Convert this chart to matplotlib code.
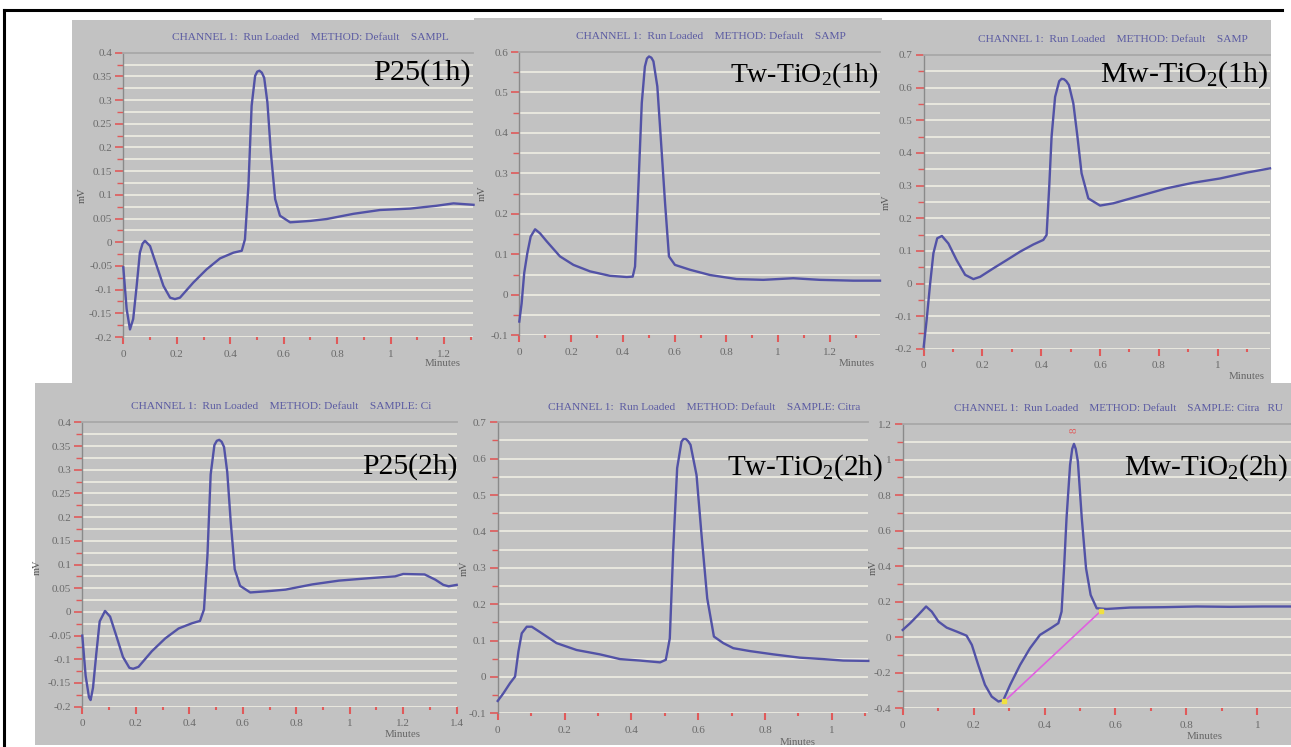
import matplotlib
matplotlib.use("Agg")
import matplotlib.pyplot as plt
from matplotlib.lines import Line2D
import numpy as np

plt.rcParams['font.family'] = ['Liberation Serif', 'DejaVu Serif']
plt.rcParams['mathtext.fontset'] = 'custom'
plt.rcParams['mathtext.rm'] = 'Liberation Serif'
plt.rcParams['mathtext.it'] = 'Liberation Serif:italic'

# ---------------- data ----------------
p25_1h_t = [0, 0.0125, 0.025, 0.037, 0.05, 0.062, 0.072, 0.081, 0.1, 0.125, 0.15, 0.175, 0.193,
            0.212, 0.262, 0.312, 0.362, 0.412, 0.443, 0.455, 0.468, 0.48, 0.493, 0.501, 0.509,
            0.518, 0.527, 0.539, 0.552, 0.568, 0.586, 0.624, 0.699, 0.761, 0.861, 0.96, 1.073,
            1.172, 1.235, 1.31]
p25_1h_mv = [-0.053, -0.141, -0.184, -0.162, -0.092, -0.022, -0.003, 0.003, -0.008, -0.05, -0.092,
             -0.117, -0.12, -0.117, -0.085, -0.057, -0.034, -0.022, -0.018, 0.006, 0.119, 0.288,
             0.351, 0.36, 0.362, 0.358, 0.347, 0.295, 0.189, 0.091, 0.056, 0.042, 0.045, 0.049,
             0.06, 0.068, 0.071, 0.077, 0.082, 0.079]

tw_1h_t = [0, 0.009, 0.019, 0.031, 0.044, 0.061, 0.08, 0.106, 0.157, 0.209, 0.273, 0.35, 0.415,
           0.438, 0.447, 0.46, 0.473, 0.485, 0.493, 0.501, 0.51, 0.518, 0.533, 0.546, 0.563,
           0.578, 0.601, 0.659, 0.736, 0.839, 0.942, 1.058, 1.161, 1.29, 1.393]
tw_1h_mv = [-0.066, -0.021, 0.054, 0.103, 0.144, 0.162, 0.152, 0.132, 0.095, 0.074, 0.058, 0.047,
            0.044, 0.045, 0.07, 0.268, 0.474, 0.564, 0.584, 0.589, 0.586, 0.577, 0.515, 0.391,
            0.226, 0.095, 0.074, 0.062, 0.049, 0.039, 0.037, 0.041, 0.037, 0.035, 0.035]

mw_1h_t = [0, 0.01, 0.022, 0.033, 0.046, 0.062, 0.084, 0.112, 0.141, 0.169, 0.192, 0.237, 0.282,
           0.328, 0.373, 0.407, 0.418, 0.427, 0.435, 0.447, 0.461, 0.469, 0.477, 0.485, 0.494,
           0.509, 0.523, 0.537, 0.56, 0.6, 0.645, 0.736, 0.827, 0.917, 1.008, 1.099, 1.178]
mw_1h_mv = [-0.193, -0.111, 0.001, 0.093, 0.139, 0.146, 0.123, 0.072, 0.027, 0.014, 0.021, 0.047,
            0.072, 0.098, 0.12, 0.134, 0.149, 0.297, 0.45, 0.572, 0.62, 0.627, 0.626, 0.62, 0.608,
            0.552, 0.45, 0.338, 0.261, 0.239, 0.246, 0.269, 0.292, 0.309, 0.322, 0.34, 0.353]

p25_2h_t = [0, 0.0125, 0.025, 0.031, 0.04, 0.052, 0.065, 0.085, 0.104, 0.128, 0.152, 0.176, 0.19,
            0.21, 0.26, 0.31, 0.36, 0.41, 0.44, 0.455, 0.468, 0.48, 0.494, 0.503, 0.512, 0.521,
            0.53, 0.542, 0.555, 0.57, 0.59, 0.628, 0.7, 0.76, 0.86, 0.96, 1.07, 1.17, 1.2, 1.28,
            1.32, 1.35, 1.37, 1.4]
p25_2h_mv = [-0.05, -0.135, -0.18, -0.186, -0.16, -0.09, -0.02, 0.002, -0.01, -0.052, -0.095,
             -0.118, -0.12, -0.116, -0.083, -0.056, -0.035, -0.024, -0.019, 0.005, 0.12, 0.29,
             0.352, 0.361, 0.363, 0.359, 0.348, 0.295, 0.19, 0.09, 0.055, 0.041, 0.044, 0.047,
             0.058, 0.066, 0.071, 0.075, 0.08, 0.079, 0.068, 0.057, 0.054, 0.057]

tw_2h_t = [0, 0.017, 0.037, 0.052, 0.062, 0.072, 0.087, 0.102, 0.127, 0.176, 0.236, 0.306, 0.366,
           0.426, 0.486, 0.503, 0.515, 0.525, 0.537, 0.55, 0.556, 0.563, 0.57, 0.577, 0.595, 0.61,
           0.627, 0.647, 0.675, 0.705, 0.755, 0.825, 0.904, 0.974, 1.034, 1.109]
tw_2h_mv = [-0.066, -0.045, -0.017, 0.001, 0.07, 0.12, 0.138, 0.138, 0.123, 0.093, 0.074, 0.062,
            0.049, 0.045, 0.04, 0.047, 0.106, 0.345, 0.574, 0.647, 0.654, 0.654, 0.648, 0.638,
            0.555, 0.39, 0.216, 0.111, 0.093, 0.079, 0.071, 0.062, 0.053, 0.049, 0.045, 0.044]

mw_2h_t = [0, 0.021, 0.044, 0.066, 0.082, 0.101, 0.124, 0.152, 0.18, 0.195, 0.213, 0.232, 0.251,
           0.27, 0.284, 0.303, 0.331, 0.359, 0.387, 0.42, 0.439, 0.448, 0.455, 0.462, 0.472,
           0.478, 0.483, 0.488, 0.494, 0.505, 0.517, 0.53, 0.547, 0.575, 0.641, 0.735, 0.829,
           0.923, 1.017, 1.095]
mw_2h_mv = [0.041, 0.079, 0.126, 0.173, 0.144, 0.088, 0.054, 0.032, 0.009, -0.043, -0.156, -0.268,
            -0.334, -0.362, -0.353, -0.268, -0.156, -0.062, 0.013, 0.054, 0.079, 0.144, 0.388,
            0.67, 0.97, 1.06, 1.088, 1.06, 0.989, 0.67, 0.388, 0.238, 0.163, 0.159, 0.167, 0.169,
            0.173, 0.171, 0.173, 0.173]
# integration baseline of the Mw-TiO2(2h) peak
mw_2h_base_t = [0.287, 0.559]
mw_2h_base_mv = [-0.36, 0.148]

labels = ['P25(1h)', r'Tw-TiO$_\mathrm{2}$(1h)', r'Mw-TiO$_\mathrm{2}$(1h)',
          'P25(2h)', r'Tw-TiO$_\mathrm{2}$(2h)', r'Mw-TiO$_\mathrm{2}$(2h)']
# visible part of the instrument header in each screenshot
headers = ['CHANNEL 1:  Run Loaded    METHOD: Default    SAMPL',
           'CHANNEL 1:  Run Loaded    METHOD: Default    SAMP',
           'CHANNEL 1:  Run Loaded    METHOD: Default    SAMP',
           'CHANNEL 1:  Run Loaded    METHOD: Default    SAMPLE: Ci',
           'CHANNEL 1:  Run Loaded    METHOD: Default    SAMPLE: Citra',
           'CHANNEL 1:  Run Loaded    METHOD: Default    SAMPLE: Citra   RU']

# ---------------- layout ----------------
W, H = 1291, 747
fig = plt.figure(figsize=(W / 100, H / 100), dpi=100)
fig.patch.set_facecolor('white')

GRAY = '#c2c2c2'
GRID = '#ebeae0'
RED = '#e05a5a'
LINE = '#5252a6'
TXT = '#6a6a6a'
HEAD = '#5a5aa2'


def fx(px):
    return px / W


def fy(py):
    return 1 - py / H


def box(x0, y0, x1, y1):
    a = fig.add_axes([fx(x0), fy(y1), fx(x1 - x0), (y1 - y0) / H])
    a.set_facecolor(GRAY)
    a.set_xticks([])
    a.set_yticks([])
    for s in a.spines.values():
        s.set_visible(False)
    a.set_xlim(x0, x1)
    a.set_ylim(y1, y0)
    a.set_zorder(0)
    return a


panels = [
    dict(box=(72, 20, 474, 383), ax=(123.3, 473, 52.7, 337), y=(-0.2, 0.4), ys=0.05, xmax=1.308,
         t=p25_1h_t, v=p25_1h_mv, lab=(471, 73), fs=21.8, head=(172, 37), hfs=8.2,
         mv=(82, 195), mins=(443, 364)),
    dict(box=(474, 18, 882, 383), ax=(519.3, 880, 52, 335.3), y=(-0.1, 0.6), ys=0.1, xmax=1.393,
         t=tw_1h_t, v=tw_1h_mv, lab=(879, 75), fs=20.0, head=(576, 36), hfs=8.2,
         mv=(482, 193), mins=(857, 363)),
    dict(box=(882, 20, 1271, 383), ax=(923.7, 1270, 55, 349), y=(-0.2, 0.7), ys=0.1, xmax=1.178,
         t=mw_1h_t, v=mw_1h_mv, lab=(1268, 75), fs=21.5, head=(978, 39), hfs=8.2,
         mv=(886, 202), mins=(1247, 377)),
    dict(box=(35, 383, 462, 745), ax=(82.3, 456.7, 422.3, 706.7), y=(-0.2, 0.4), ys=0.05, xmax=1.40,
         t=p25_2h_t, v=p25_2h_mv, lab=(457, 467), fs=21.3, head=(131, 406), hfs=8.2,
         mv=(37, 567), mins=(403, 734)),
    dict(box=(462, 383, 882, 745), ax=(497.7, 868.3, 422.3, 713.3), y=(-0.1, 0.7), ys=0.1, xmax=1.109,
         t=tw_2h_t, v=tw_2h_mv, lab=(883, 468), fs=21.0, head=(548, 407), hfs=8.2,
         mv=(464, 568), mins=(798, 742)),
    dict(box=(882, 383, 1291, 745), ax=(902.7, 1291, 424, 708.3), y=(-0.4, 1.2), ys=0.2, xmax=1.095,
         t=mw_2h_t, v=mw_2h_mv, lab=(1288, 468), fs=21.0, head=(954, 408), hfs=8.0,
         mv=(873, 567), mins=(1205, 736)),
]

for i, p in enumerate(panels):
    b = box(*p['box'])
    b.text(p['head'][0], p['head'][1], headers[i], fontsize=p['hfs'], color=HEAD, ha='left',
           va='center')
    b.text(p['mv'][0], p['mv'][1], 'mV', fontsize=7.5, color='#555555', rotation=90,
           ha='center', va='center')
    b.text(p['mins'][0], p['mins'][1], 'Minutes', fontsize=7.8, color='#666666',
           ha='center', va='center')

    l, r, t, bt = p['ax']
    ax = fig.add_axes([fx(l), fy(bt), fx(r - l), (bt - t) / H])
    ax.set_facecolor('none')
    ax.set_zorder(1)
    ylo, yhi = p['y']
    ys = p['ys']
    major = np.round(np.arange(ylo, yhi + ys / 2, ys), 3) + 0.0
    minor = np.round(np.arange(ylo + ys / 2, yhi, ys), 3) + 0.0
    ax.set_ylim(ylo, yhi)
    ax.set_xlim(0, p['xmax'])
    ax.set_yticks(major)
    ax.set_yticklabels(['%g' % (m + 0.0) for m in major])
    ax.set_yticks(minor, minor=True)
    for yv in list(major) + list(minor):
        if ylo < yv < yhi:
            ax.axhline(yv, color=GRID, lw=1.3, zorder=0)
    ax.axhline(ylo, color=GRID, lw=1.3, zorder=0)
    xmaj = np.round(np.arange(0, p['xmax'] + 0.001, 0.2), 2) + 0.0
    xmin = np.round(np.arange(0.1, p['xmax'] + 0.001, 0.2), 2) + 0.0
    ax.set_xticks(xmaj)
    ax.set_xticklabels(['%g' % (m + 0.0) for m in xmaj])
    ax.set_xticks(xmin, minor=True)
    ax.tick_params(axis='y', which='major', direction='out', length=6, width=1.2, color=RED,
                   labelcolor=TXT, labelsize=8, pad=2)
    ax.tick_params(axis='y', which='minor', direction='out', length=4, width=1.0, color=RED)
    ax.tick_params(axis='x', which='major', direction='out', length=5, width=1.5, color=RED,
                   labelcolor=TXT, labelsize=8, pad=4)
    ax.tick_params(axis='x', which='minor', direction='out', length=2, width=1.5, color=RED)
    for s in ['right', 'bottom']:
        ax.spines[s].set_visible(False)
    ax.spines['left'].set_color('#8a8a8a')
    ax.spines['left'].set_linewidth(1.0)
    ax.spines['top'].set_color('#a8a8a8')
    ax.spines['top'].set_linewidth(1.3)

    ax.plot(p['t'], p['v'], color=LINE, lw=1.7, zorder=3, clip_on=False,
            solid_joinstyle='round')
    if i == 5:
        ax.plot(mw_2h_base_t, mw_2h_base_mv, color='#e060e0', lw=1.2, zorder=2)
        ax.plot(mw_2h_base_t, mw_2h_base_mv, ls='none', marker='s', ms=2.5, color='#f0e040',
                zorder=4)
        ax.text(0.483, 1.165, '8', fontsize=8, color=RED, rotation=90, ha='center', va='center')

    fig.text(fx(p['lab'][0]), fy(p['lab'][1]), labels[i], fontsize=p['fs'], color='black',
             ha='right', va='center', zorder=10)

# black frame lines
fig.add_artist(Line2D([fx(4), fx(4)], [fy(10), fy(747)], color='black', lw=2.2))
fig.add_artist(Line2D([fx(4), fx(1282)], [fy(10), fy(10)], color='black', lw=2.2))

fig.savefig('out.png', dpi=100)
